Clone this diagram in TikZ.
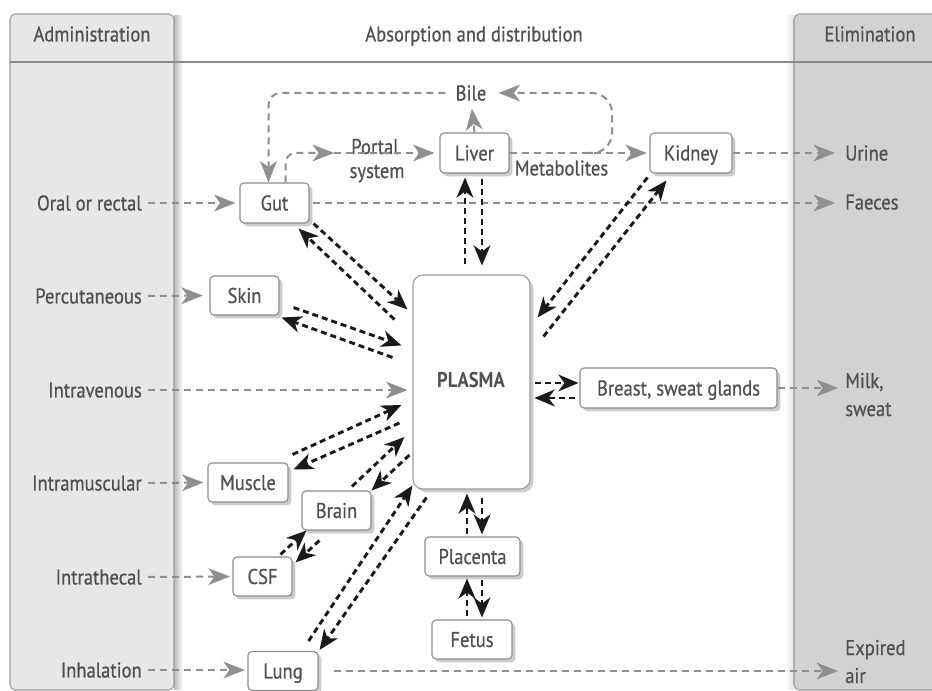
\documentclass[tikz,border=0pt]{standalone}
\usepackage{fontspec}
\setmainfont{PT Sans}[FakeStretch=0.87, UprightFeatures={FakeBold=0.6}]
\usetikzlibrary{arrows.meta,shadows}
\definecolor{txt}{HTML}{4F5052}
\definecolor{gline}{HTML}{8E8F91}
\definecolor{lpanel}{HTML}{E6E7E8}
\definecolor{rpanel}{HTML}{D1D2D4}
\definecolor{pborder}{HTML}{9C9D9F}
\definecolor{bborder}{HTML}{8A8B8D}
\definecolor{bline}{HTML}{1A1A1A}
\newdimen\px \px=0.75pt
\begin{document}
\begin{tikzpicture}[x=0.75pt,y=-0.75pt,
  font=\fontsize{16}{18}\selectfont, text=txt,
  ctext/.style={inner sep=0pt, text height=11.2pt, text depth=0pt},
  box/.style={ctext, draw=bborder, line width=0.8pt, fill=white, rounded corners=3pt,
    drop shadow={shadow xshift=2.5pt, shadow yshift=-2.5pt, opacity=0.2, fill=black}},
  garrow/.style={draw=gline, line width=1.5pt, dash pattern=on 5.25pt off 3.75pt,
    -{Stealth[length=16pt, width=12.5pt, inset=4.5pt]}},
  barrow/.style={draw=bline, line width=2.2pt, dash pattern=on 4.5pt off 3pt,
    -{Stealth[length=15pt, width=12.5pt, inset=4.5pt]}},
  llbl/.style={ctext, anchor=east},
  rlbl/.style={ctext, anchor=west},
  blbl/.style={inner sep=0pt, anchor=base west},
]
\useasboundingbox (0,0) rectangle (932,691);
\fill[white] (0,0) rectangle (932,691);
\begin{scope}
\clip (0,0) rectangle (932,691);
% panels
\shade[left color=black!28, right color=white] (174,16) rectangle (183,689);
\shade[left color=white, right color=black!12] (785,16) rectangle (794,689);
\draw[draw=pborder, fill=lpanel, line width=0.8pt, rounded corners=4pt] (10,14) rectangle (174,690);
\draw[draw=pborder, fill=rpanel, line width=0.8pt, rounded corners=4pt] (794,14) rectangle (950,690);
\end{scope}
\draw[bborder, line width=1.6pt] (10,62) -- (932,62);

% headers
\node[ctext] (hadm) at (92,34) {Administration};
\node[ctext] (habs) at (474,34) {Absorption and distribution};
\node[ctext] (helim) at (870,34) {Elimination};

% left labels
\node[llbl] (oral) at (142,203) {Oral or rectal};
\node[llbl] (perc) at (142,296) {Percutaneous};
\node[llbl] (iv) at (142,390) {Intravenous};
\node[llbl] (im) at (142,483) {Intramuscular};
\node[llbl] (ith) at (142,577) {Intrathecal};
\node[llbl] (inh) at (142,670) {Inhalation};

% right labels
\node[rlbl] (urine) at (845,153) {Urine};
\node[rlbl] (faeces) at (845,202) {Faeces};
\node[blbl] (milk) at (845,388) {Milk,};
\node[blbl] (sweat) at (845,416) {sweat};
\node[blbl] (expired) at (845,655) {Expired};
\node[blbl] (air) at (845,683) {air};

% middle labels
\node[ctext] (bile) at (471,93) {Bile};
\node[inner sep=0pt, anchor=base] (portal) at (375,154) {Portal};
\node[inner sep=0pt, anchor=base] (system) at (377,178) {system};
\node[ctext] (metab) at (561.5,168) {Metabolites};

% boxes
\node[box, minimum width=69\px, minimum height=40\px] (gut) at (274.5,203) {Gut};
\node[box, minimum width=69\px, minimum height=40\px] (liver) at (474.5,153) {Liver};
\node[box, minimum width=82\px, minimum height=40\px] (kidney) at (691,153) {Kidney};
\node[box, minimum width=69\px, minimum height=39\px] (skin) at (244.5,295.5) {Skin};
\node[box, rounded corners=7.5pt, draw=pborder, minimum width=117\px, minimum height=214\px] (plasma) at (471.5,382) {};
\node[ctext, font=\fontsize{16}{18}\selectfont\bfseries] (plasmatxt) at (471,380) {PLASMA};
\node[box, minimum width=197\px, minimum height=40\px] (breast) at (678.5,388) {Breast, sweat glands};
\node[box, minimum width=80\px, minimum height=39\px] (muscle) at (248,482.5) {Muscle};
\node[box, minimum width=69\px, minimum height=39\px] (brain) at (336.5,510.5) {Brain};
\node[box, minimum width=59\px, minimum height=39\px] (csf) at (262.5,576.5) {CSF};
\node[box, minimum width=70\px, minimum height=39\px] (lung) at (283,671) {Lung};
\node[box, minimum width=95\px, minimum height=39\px] (placenta) at (472.5,556.5) {Placenta};
\node[box, minimum width=80\px, minimum height=39\px] (fetus) at (472,639.5) {Fetus};

% grey arrows: administration
\draw[garrow, shorten >=3pt] ([xshift=6\px]oral.east) -- (gut.west);
\draw[garrow, shorten >=5pt] ([xshift=6\px]perc.east) -- (skin.west);
\draw[garrow] ([xshift=6\px]iv.east) -- ([xshift=-5\px]iv.east -| plasma.west);
\draw[garrow, shorten >=3pt] ([xshift=6\px]im.east) -- (muscle.west);
\draw[garrow, shorten >=2pt] ([xshift=6\px]ith.east) -- (csf.west);
\draw[garrow, shorten >=2pt] ([xshift=6\px]inh.east) -- (lung.west |- inh.east);

% grey arrows: elimination
\draw[garrow] ([xshift=3\px]gut.east) -- ([xshift=-10\px]gut.east -| faeces.west);
\draw[garrow] (kidney.east) -- ([xshift=-10\px]kidney.east -| urine.west);
\draw[garrow] (breast.east) -- ([xshift=-7\px]breast.east -| milk.west);
\draw[garrow] ([xshift=15\px]lung.east) -- ([xshift=-7\px]lung.east -| air.west);

% grey arrows: liver, bile, portal
\draw[garrow, shorten >=2pt] (liver.east) -- (kidney.west);
\draw[garrow, shorten >=8\px] (liver.north) -- (bile.south);
\draw[garrow, rounded corners=20\px] (586,153) -| (612,93) -- ([xshift=12\px]bile.east);
\draw[garrow, rounded corners=12\px] ([xshift=-10\px]bile.west) -| ([xshift=-6\px]gut.north);
\coordinate (pmid) at (334,153);
\draw[garrow, rounded corners=10\px] ([xshift=11\px]gut.north) |- (pmid);
\draw[garrow, shorten >=5\px] (pmid) -- (liver.west);

% black double arrows
\draw[barrow] ([shift={(-18,45)}]plasma.north west) -- ([shift={(-11,5)}]gut.south east);
\draw[barrow] ([shift={(4,0)}]gut.south east) -- ([shift={(-5,35)}]plasma.north west);
\draw[barrow] ([shift={(-20,83)}]plasma.north west) -- ([shift={(2,2)}]skin.south east);
\draw[barrow] ([shift={(14,-8)}]skin.south east) -- ([shift={(-11,71)}]plasma.north west);
\draw[barrow] ([shift={(-13,41)}]plasma.west) -- ([shift={(5,7)}]muscle.north east);
\draw[barrow] ([shift={(4,-8)}]muscle.north east) -- ([shift={(-11,23)}]plasma.west);
\draw[barrow] ([shift={(15.5,-4)}]brain.north) -- ([shift={(-8,55)}]plasma.west);
\draw[barrow] ([shift={(-3,73)}]plasma.west) -- ([shift={(0,0)}]brain.north east);
\draw[barrow] ([shift={(-12,-2)}]csf.north east) -- ([shift={(5,0)}]brain.south west);
\draw[barrow] ([shift={(18,10)}]brain.south west) -- ([shift={(3,6)}]csf.north east);
\draw[barrow] ([shift={(-10,-10)}]lung.north east) -- ([shift={(0,-4)}]plasma.south west);
\draw[barrow] ([shift={(14,8)}]plasma.south west) -- ([shift={(1,-1)}]lung.north east);
\draw[barrow] ([shift={(-2,4)}]kidney.south west) -- ([shift={(7,43)}]plasma.north east);
\draw[barrow] ([shift={(13,62)}]plasma.north east) -- ([shift={(17,7)}]kidney.south west);
\draw[barrow] ([shift={(-6.5,-10)}]plasma.north) -- ([shift={(-9.5,4)}]liver.south);
\draw[barrow] ([shift={(7.5,5)}]liver.south) -- ([shift={(10.5,-9)}]plasma.north);
\draw[barrow] ([shift={(-5.5,-2)}]placenta.north) -- ([shift={(-4.5,4)}]plasma.south);
\draw[barrow] ([shift={(10.5,8)}]plasma.south) -- ([shift={(9.5,-2)}]placenta.north);
\draw[barrow] ([shift={(-5,-3)}]fetus.north) -- ([shift={(-5.5,2)}]placenta.south);
\draw[barrow] ([shift={(9.5,3)}]placenta.south) -- ([shift={(10,-2)}]fetus.north);
\draw[barrow] ([shift={(4,1)}]plasma.east) -- ([shift={(-1,-5)}]breast.west);
\draw[barrow] ([shift={(-4,10)}]breast.west) -- ([shift={(4,16)}]plasma.east);
\end{tikzpicture}
\end{document}
